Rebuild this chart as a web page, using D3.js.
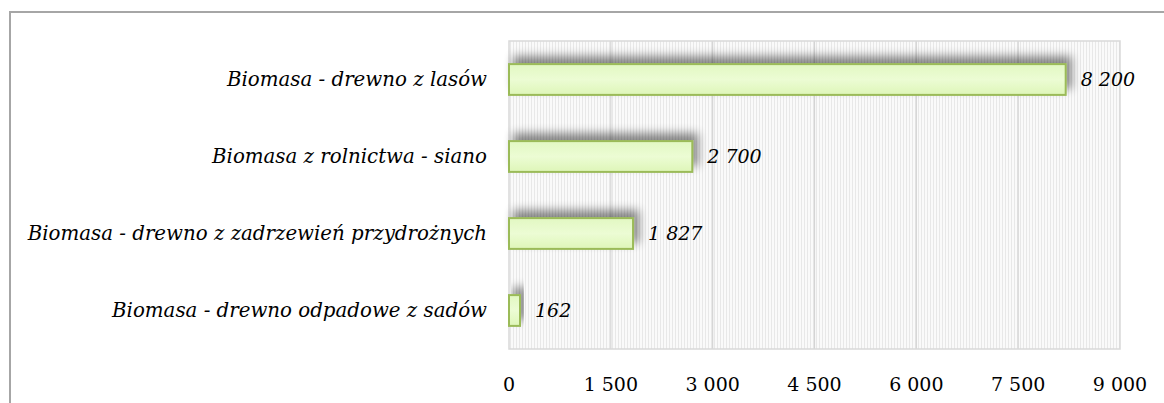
<!DOCTYPE html>
<html>
<head>
<meta charset="utf-8">
<script src="https://cdn.jsdelivr.net/npm/d3@7/dist/d3.min.js"></script>
<style>
  html, body { margin: 0; padding: 0; background: #fff; }
  svg { display: block; }
  text { font-family: "DejaVu Serif", serif; fill: #000; }
</style>
</head>
<body>
<svg id="chart" width="1164" height="403"></svg>
<script>
// Biomass potential by source
const categories = [
  "Biomasa - drewno z lasów",
  "Biomasa z rolnictwa - siano",
  "Biomasa - drewno z zadrzewień przydrożnych",
  "Biomasa - drewno odpadowe z sadów"
];
const values = [8200, 2700, 1827, 162];
const valueLabels = ["8 200", "2 700", "1 827", "162"];
const tickValues = [0, 1500, 3000, 4500, 6000, 7500, 9000];
const tickLabels = ["0", "1 500", "3 000", "4 500", "6 000", "7 500", "9 000"];

const svg = d3.select("#chart");
const W = 1164, H = 403;
const plot = { left: 509, right: 1120, top: 41, bottom: 349 };

const defs = svg.append("defs");

// fine vertical striping of the plot background
const pat = defs.append("pattern")
  .attr("id", "stripes").attr("patternUnits", "userSpaceOnUse")
  .attr("width", 3).attr("height", 10);
pat.append("rect").attr("width", 3).attr("height", 10).attr("fill", "#fafafa");
pat.append("rect").attr("width", 1).attr("height", 10).attr("fill", "#e8e8e8");

// bar fill gradient
const grad = defs.append("linearGradient")
  .attr("id", "barFill").attr("x1", 0).attr("y1", 0).attr("x2", 0).attr("y2", 1);
grad.append("stop").attr("offset", "0%").attr("stop-color", "#e2f8c2");
grad.append("stop").attr("offset", "50%").attr("stop-color", "#ecfcd4");
grad.append("stop").attr("offset", "100%").attr("stop-color", "#def6b8");

// soft shadow thrown up and to the right
const f = defs.append("filter").attr("id", "shadow")
  .attr("x", "-20%").attr("y", "-100%").attr("width", "150%").attr("height", "300%");
f.append("feGaussianBlur").attr("in", "SourceAlpha").attr("stdDeviation", 5).attr("result", "b");
f.append("feOffset").attr("in", "b").attr("dx", 5).attr("dy", -7).attr("result", "o");
f.append("feComponentTransfer").attr("in", "o").attr("result", "s")
  .append("feFuncA").attr("type", "linear").attr("slope", 0.45);
const m = f.append("feMerge");
m.append("feMergeNode").attr("in", "s");
m.append("feMergeNode").attr("in", "SourceGraphic");

// outer frame (top and left)
svg.append("path")
  .attr("d", `M10,${H} L10,12 L${W},12`)
  .attr("fill", "none").attr("stroke", "#a6a6a6").attr("stroke-width", 2);

const x = d3.scaleLinear().domain([0, 9000]).range([plot.left, plot.right]);
const y = d3.scaleBand().domain(categories).range([plot.top, plot.bottom]).paddingInner(0.6).paddingOuter(0.3);

// plot area background
svg.append("rect")
  .attr("x", plot.left).attr("y", plot.top)
  .attr("width", plot.right - plot.left).attr("height", plot.bottom - plot.top)
  .attr("fill", "url(#stripes)");

// vertical gridlines
svg.append("g").selectAll("line").data(tickValues.slice(1, -1)).join("line")
  .attr("x1", d => x(d)).attr("x2", d => x(d))
  .attr("y1", plot.top).attr("y2", plot.bottom)
  .attr("stroke", "#d4d4d4").attr("stroke-width", 1.2);

// plot area border
svg.append("rect")
  .attr("x", plot.left).attr("y", plot.top)
  .attr("width", plot.right - plot.left).attr("height", plot.bottom - plot.top)
  .attr("fill", "none").attr("stroke", "#d9d9d9").attr("stroke-width", 1.5);

// bars
svg.append("g").selectAll("rect").data(values).join("rect")
  .attr("x", x(0))
  .attr("y", (d, i) => y(categories[i]))
  .attr("width", d => x(d) - x(0))
  .attr("height", y.bandwidth())
  .attr("fill", "url(#barFill)")
  .attr("stroke", "#9bbb59").attr("stroke-width", 2)
  .attr("filter", "url(#shadow)");

// value labels
svg.append("g").selectAll("text").data(values).join("text")
  .attr("x", d => x(d) + 15)
  .attr("y", (d, i) => y(categories[i]) + y.bandwidth() / 2)
  .attr("dy", "0.35em")
  .attr("font-size", 19).attr("font-style", "italic")
  .text((d, i) => valueLabels[i]);

// category labels
svg.append("g").selectAll("text").data(categories).join("text")
  .attr("x", 487)
  .attr("y", d => y(d) + y.bandwidth() / 2)
  .attr("dy", "0.35em")
  .attr("text-anchor", "end")
  .attr("font-size", 19.8).attr("font-style", "italic")
  .text(d => d);

// x axis tick labels
svg.append("g").selectAll("text").data(tickValues).join("text")
  .attr("x", d => x(d))
  .attr("y", 384)
  .attr("dy", "0.35em")
  .attr("text-anchor", "middle")
  .attr("font-size", 19)
  .text((d, i) => tickLabels[i]);
</script>
</body>
</html>
